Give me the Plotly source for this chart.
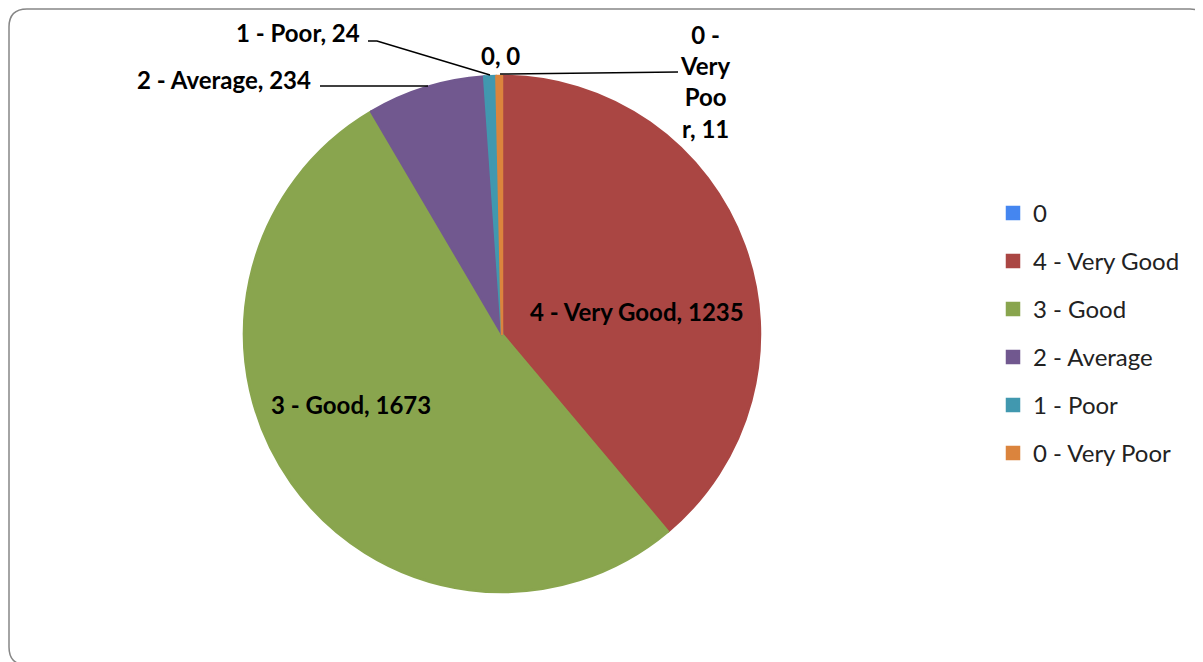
import plotly.graph_objects as go

labels = ["0", "4 - Very Good", "3 - Good", "2 - Average", "1 - Poor", "0 - Very Poor"]
values = [0, 1235, 1673, 234, 24, 11]
colors = ["#4586F0", "#AA4643", "#89A54E", "#71588F", "#4198AF", "#DB843D"]

W, H = 1203, 662
OFF = 8  # page body margin
def px(x): return (x - OFF) / W
def py(y): return 1 - (y - OFF) / H

FONT = "Lato"

fig = go.Figure()
fig.add_trace(go.Pie(
    labels=[f"<span style='font-size:24px;baseline-shift:4px'>{l}</span>" for l in labels],
    values=values, sort=False, direction="clockwise", rotation=0,
    marker=dict(colors=colors, line=dict(width=2.5, color=colors)),
    textinfo="none", hoverinfo="skip",
    domain=dict(x=[px(244), px(760)], y=[py(592), py(76)]),
))

lab = {l: f"{l}, {v}" for l, v in zip(labels, values)}
lab_font = dict(family=FONT, size=24, color="#000000")

def ann(text, x, y, xanchor="center", align="center"):
    fig.add_annotation(text=f"<b>{text}</b>", x=px(x), y=py(y),
                       xref="paper", yref="paper", showarrow=False,
                       xanchor=xanchor, yanchor="middle", align=align, font=lab_font)

ann(lab["4 - Very Good"], 637, 311)
ann(lab["3 - Good"], 351, 404)
ann(lab["2 - Average"], 313, 80, xanchor="right")
ann(lab["1 - Poor"], 362, 32, xanchor="right")
ann(lab["0"], 501, 55)
vp = lab["0 - Very Poor"]
ann(vp[:3] + "<br>" + vp[4:8] + "<br>" + vp[9:12] + "<br>" + vp[12:], 705, 81)

line = dict(color="#000000", width=1.5)
shapes = [
    dict(type="path", xref="paper", yref="paper",
         path=f"M {px(368)},{py(41)} L {px(377)},{py(41)} L {px(490)},{py(75)}", line=line),
    dict(type="path", xref="paper", yref="paper",
         path=f"M {px(320)},{py(86)} L {px(428)},{py(86)}", line=line),
    dict(type="path", xref="paper", yref="paper",
         path=f"M {px(500)},{py(74)} L {px(678)},{py(72)}", line=line),
]
# rounded chart border (extends past the right and bottom edges)
x0, y0, x1, y1, r = 9, 9, 1208, 665, 18
shapes.append(dict(type="path", xref="paper", yref="paper", line=dict(color="#868686", width=1.5),
    path=(f"M {px(x0)},{py(y0+r)} Q {px(x0)},{py(y0)} {px(x0+r)},{py(y0)} "
          f"L {px(x1-r)},{py(y0)} Q {px(x1)},{py(y0)} {px(x1)},{py(y0+r)} "
          f"L {px(x1)},{py(y1-r)} Q {px(x1)},{py(y1)} {px(x1-r)},{py(y1)} "
          f"L {px(x0+r)},{py(y1)} Q {px(x0)},{py(y1)} {px(x0)},{py(y1-r)} Z")))

fig.update_layout(
    width=W, height=H, margin=dict(l=0, r=0, t=0, b=0),
    paper_bgcolor="white", plot_bgcolor="white",
    font=dict(family=FONT, color="#222222"),
    shapes=shapes,
    showlegend=True,
    legend=dict(x=px(993), y=py(184), xanchor="left", yanchor="top",
                font=dict(family=FONT, size=34.6, color="#222222"),
                traceorder="normal", bgcolor="rgba(0,0,0,0)"),
)
fig.write_html("out.html")
